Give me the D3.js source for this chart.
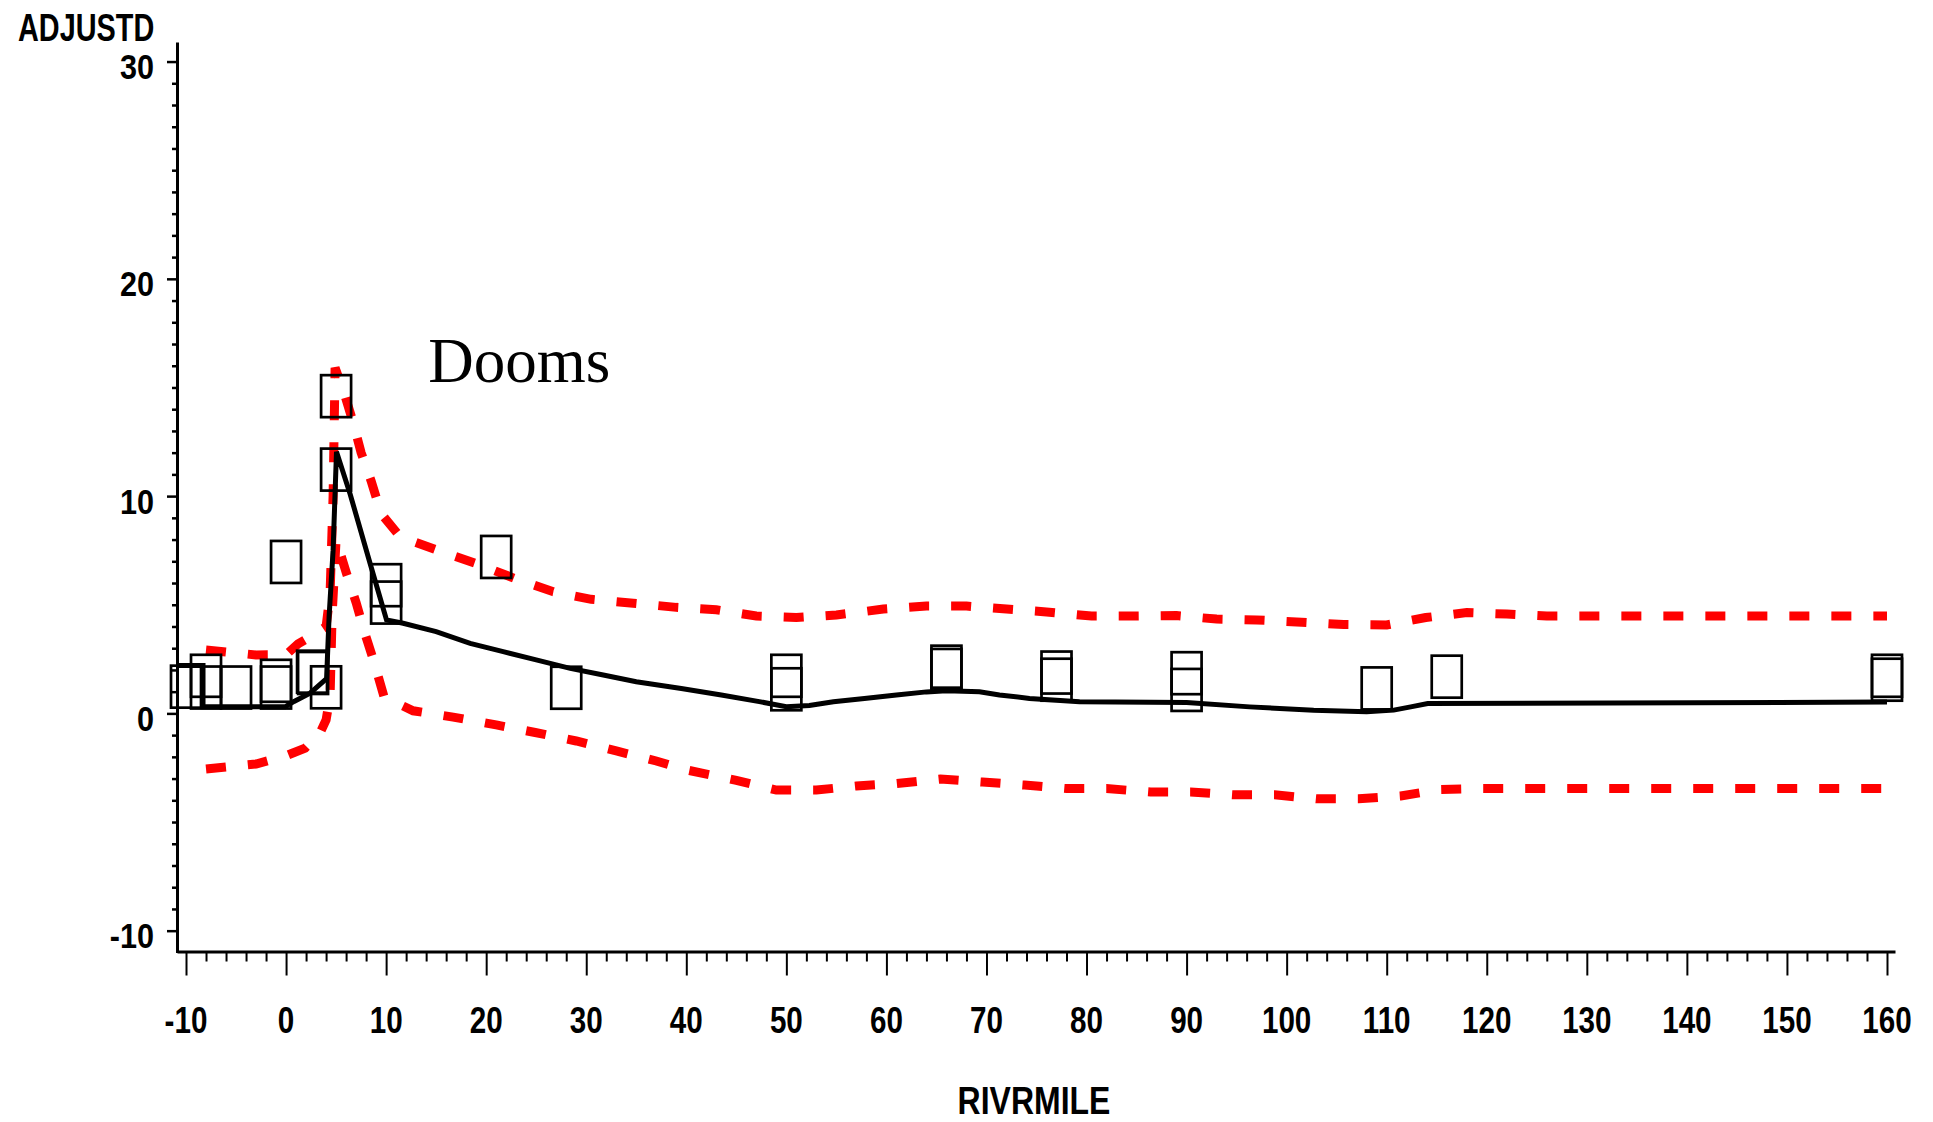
<!DOCTYPE html>
<html><head><meta charset="utf-8">
<script src="https://cdn.jsdelivr.net/npm/d3@7"></script>
<style>body{margin:0;background:#fff} svg{display:block}</style>
</head><body>
<svg id="c" width="1933" height="1122"></svg>
<script>
// observed data points (river mile, adjusted value)
const pointX = [-10, -8, -8, -5, -1, -1, 0, 2.6, 2.7, 4, 5, 5, 10, 10, 21, 28, 50, 50, 66, 66, 77, 77, 90, 90, 109, 116, 160, 160];
const pointY = [1.23, 1.73, 1.19, 1.19, 1.5, 1.19, 6.97, 1.92, 1.86, 1.2, 11.22, 14.6, 5.9, 5.1, 7.2, 1.18, 1.73, 1.11, 2.15, 2.0, 1.88, 1.55, 1.85, 1.08, 1.15, 1.69, 1.73, 1.55];

// fitted curve
const fitX = [-10.9, -8.3, -8.3, -0.1, 0.8, 2.4, 4.05, 4.3, 4.7, 5.04, 6.4, 8.4, 10.04, 11.7, 15, 18.4, 21.7, 25, 28.4, 31.7, 35, 39.5, 43.5, 47.3, 50, 52.3, 54.7, 57.8, 61, 64, 66, 69.3, 71.3, 74.3, 79.3, 90, 96.3, 102.7, 108, 110.7, 112.4, 114.1, 160];
const fitY = [2.2, 2.2, 0.3, 0.3, 0.55, 0.93, 1.6, 4.45, 7.5, 12.04, 10.1, 6.9, 4.3, 4.15, 3.76, 3.22, 2.84, 2.46, 2.07, 1.77, 1.46, 1.15, 0.85, 0.54, 0.31, 0.36, 0.54, 0.69, 0.85, 0.99, 1.04, 1.0, 0.85, 0.69, 0.54, 0.5, 0.3, 0.15, 0.08, 0.15, 0.3, 0.45, 0.52];

// upper confidence band
const upperX = [-8, -3, 0, 1.2, 2.7, 4.0, 4.4, 4.7, 4.9, 5.7, 6.7, 7.5, 8.5, 9.5, 11.4, 15.2, 19, 22.9, 26.7, 30.5, 34.7, 39, 43, 47, 51, 55, 59.7, 64, 68, 72, 76, 80.5, 85, 89, 93, 97, 101.5, 105.7, 110, 113.9, 118, 122, 126, 160];
const upperY = [2.92, 2.69, 2.7, 3.2, 3.6, 4.0, 5.5, 10, 15.9, 14.9, 13.4, 12.0, 10.7, 9.2, 8.13, 7.5, 6.9, 6.2, 5.6, 5.25, 5.07, 4.88, 4.77, 4.48, 4.41, 4.53, 4.8, 4.94, 4.94, 4.8, 4.67, 4.48, 4.48, 4.5, 4.34, 4.3, 4.2, 4.09, 4.07, 4.41, 4.64, 4.57, 4.48, 4.48];

// lower confidence band
const lowerX = [-8, -3, 0, 1.9, 3.4, 4.0, 4.4, 4.6, 5.0, 6.0, 7.0, 7.9, 8.8, 9.8, 12.7, 16.7, 21, 24.9, 29, 33, 37, 40, 45, 49, 53, 57, 61, 65.4, 69.6, 73.8, 78, 82, 86.4, 90.4, 94.6, 98.8, 103, 107.2, 111.4, 115.4, 119.6, 160];
const lowerY = [-2.56, -2.33, -1.95, -1.6, -0.9, -0.3, 0.8, 4.5, 8.0, 6.5, 5.1, 3.65, 2.35, 0.75, 0.12, -0.17, -0.53, -0.88, -1.27, -1.73, -2.19, -2.6, -3.08, -3.53, -3.53, -3.34, -3.23, -3.02, -3.16, -3.3, -3.46, -3.46, -3.62, -3.62, -3.75, -3.75, -3.93, -3.93, -3.8, -3.5, -3.46, -3.46];

const xMajor = [-10, 0, 10, 20, 30, 40, 50, 60, 70, 80, 90, 100, 110, 120, 130, 140, 150, 160];
const yMajor = [-10, 0, 10, 20, 30];
const xLabel = "RIVRMILE";
const yLabel = "ADJUSTD";
const annotText = "Dooms";
const annotX = 14.2, annotY = 15.25;

const svg = d3.select('#c');
const x = d3.scaleLinear().domain([-10.9, 160.8]).range([177, 1895]);
const y = d3.scaleLinear().domain([-11, 30.9]).range([952.4, 42]);

const xMinor = d3.range(-10, 161, 2).filter(v => v % 10 !== 0);
const yMinor = d3.range(-10, 31, 1).filter(v => v % 10 !== 0);

// axes
const gx = svg.append('g').attr('transform', 'translate(0,951.5)');
gx.call(d3.axisBottom(x).tickValues(xMajor).tickSize(24).tickSizeOuter(0).tickFormat(''));
gx.select('.domain').attr('stroke-width', 3).attr('stroke', '#000');
gx.selectAll('.tick line').attr('stroke-width', 2).attr('stroke', '#000');
const gxm = svg.append('g').attr('transform', 'translate(0,951.5)');
gxm.call(d3.axisBottom(x).tickValues(xMinor).tickSize(10).tickSizeOuter(0).tickFormat(''));
gxm.select('.domain').remove();
gxm.selectAll('.tick line').attr('stroke-width', 2).attr('stroke', '#000');

const gy = svg.append('g').attr('transform', 'translate(177,0)');
gy.call(d3.axisLeft(y).tickValues(yMajor).tickSize(10).tickSizeOuter(0).tickFormat(''));
gy.select('.domain').attr('stroke-width', 3).attr('stroke', '#000');
gy.selectAll('.tick line').attr('stroke-width', 2.5).attr('stroke', '#000');
const gym = svg.append('g').attr('transform', 'translate(177,0)');
gym.call(d3.axisLeft(y).tickValues(yMinor).tickSize(5).tickSizeOuter(0).tickFormat(''));
gym.select('.domain').remove();
gym.selectAll('.tick line').attr('stroke-width', 2.5).attr('stroke', '#000');

const fontFam = '"Liberation Sans", Arial, sans-serif';
// tick labels
svg.append('g').selectAll('text').data(xMajor).join('text')
  .attr('transform', d => `translate(${x(d)},1033) scale(0.8,1)`)
  .attr('text-anchor', 'middle')
  .style('font-family', fontFam).style('font-weight', 'bold').style('font-size', '37px')
  .text(d => d);
svg.append('g').selectAll('text').data(yMajor).join('text')
  .attr('transform', d => `translate(154,${y(d) + 17.5}) scale(0.85,1)`)
  .attr('text-anchor', 'end')
  .style('font-family', fontFam).style('font-weight', 'bold').style('font-size', '36px')
  .text(d => d);

// axis titles
svg.append('text').attr('transform', 'translate(1034,1114) scale(0.82,1)')
  .attr('text-anchor', 'middle')
  .style('font-family', fontFam).style('font-weight', 'bold').style('font-size', '39px')
  .text(xLabel);
svg.append('text').attr('transform', 'translate(18,41) scale(0.74,1)')
  .attr('text-anchor', 'start')
  .style('font-family', fontFam).style('font-weight', 'bold').style('font-size', '39px')
  .text(yLabel);

// bands
const line = d3.line().x(d => x(d[0])).y(d => y(d[1]));
svg.append('path').datum(upperX.map((v, i) => [v, upperY[i]]))
  .attr('d', line).attr('fill', 'none').attr('stroke', '#ff0000')
  .attr('stroke-width', 9).attr('stroke-dasharray', '20,22');
svg.append('path').datum(lowerX.map((v, i) => [v, lowerY[i]]))
  .attr('d', line).attr('fill', 'none').attr('stroke', '#ff0000')
  .attr('stroke-width', 9).attr('stroke-dasharray', '20,22');

// fit line
svg.append('path').datum(fitX.map((v, i) => [v, fitY[i]]))
  .attr('d', line).attr('fill', 'none').attr('stroke', '#000')
  .attr('stroke-width', 5).attr('stroke-linejoin', 'miter');

// points (open squares)
svg.append('g').selectAll('rect').data(pointX.map((v, i) => [v, pointY[i]])).join('rect')
  .attr('x', d => x(d[0]) - 15).attr('y', d => y(d[1]) - 21)
  .attr('width', 30).attr('height', 42)
  .attr('fill', 'none').attr('stroke', '#000').attr('stroke-width', 2.7);

// annotation
svg.append('text').attr('x', x(annotX)).attr('y', y(annotY))
  .style('font-family', '"Liberation Serif", "Times New Roman", serif').style('font-size', '63px')
  .text(annotText);
</script>
</body></html>
